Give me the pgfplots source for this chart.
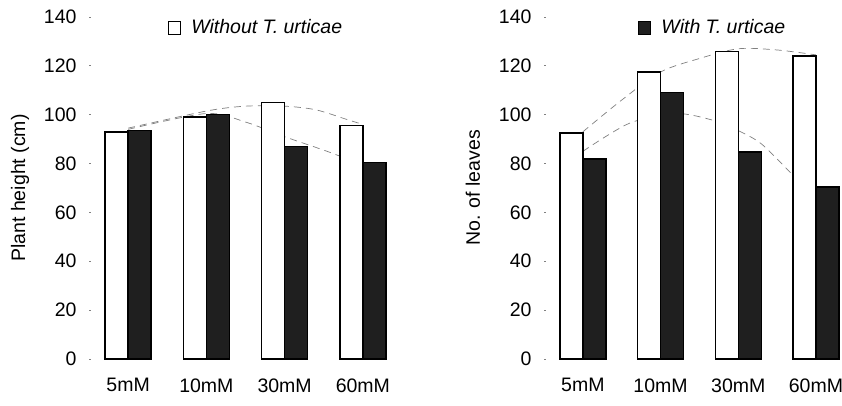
\documentclass[border=0pt]{standalone}
\usepackage{fontspec}
\setmainfont{Liberation Sans}
\usepackage{pgfplots}
\pgfplotsset{compat=1.18}

\pgfplotsset{
  panel/.style={
    scale only axis, anchor=south west,
    height=342pt, ymin=0, ymax=140, ytick={0,20,...,140},
    xmin=-0.5, xtick={0,1,2,3}, xticklabels={5mM,10mM,30mM,60mM},
    extra x ticks={0.5,1.5,2.5}, extra x tick labels={},
    extra x tick style={tick style={draw=gray, line width=0.8pt}},
    axis line style={draw=none},
    ytick pos=left, xtick pos=bottom,
    major tick length=2pt,
    y tick style={draw=gray, line width=0.8pt},
    x tick style={draw=none},
    tick label style={font=\fontsize{19.5}{21}\selectfont},
    /pgf/number format/assume math mode=true,
    yticklabel style={xshift=-9pt},
    xticklabel style={yshift=-16pt},
    every axis y label/.style={at={(axis description cs:0,0.5)}, rotate=90,
      anchor=center, font=\fontsize{19.5}{21}\selectfont},
    legend image code/.code={\draw[##1, line width=1.1pt] (0pt,-6.5pt) rectangle (12pt,6.5pt); \path (22pt,0pt);},
    clip=false,
  },
  wbar/.style={ybar, bar width=23pt, bar shift=-11.5pt, fill=white, draw=black, line width=1.4pt},
  dbar/.style={ybar, bar width=23pt, bar shift=11.5pt, fill=black!88, draw=black, line width=1.4pt},
  trend/.style={smooth, gray, line width=0.7pt, dash pattern=on 7pt off 5pt, mark=none, forget plot},
}

\begin{document}
\begin{tikzpicture}
\path[use as bounding box] (0,0) rectangle (842pt,406pt);

% left panel: plant height
\begin{axis}[panel, at={(89pt,47pt)}, width=313pt, xmax=3.5,
  ylabel={Plant height (cm)}, ylabel style={yshift=69pt},
  legend style={draw=none, fill=none, at={(0.252,0.969)}, anchor=west,
    inner sep=0pt, nodes={inner sep=0pt}, font=\fontsize{19.5}{21}\selectfont},
]
\addplot[trend] coordinates {(0,94.5) (1,101.5) (1.5,103.5) (2,103.5) (2.4,102) (2.8,98) (3,96)};
\addplot[trend] coordinates {(0,94) (1,100.5) (1.5,97) (2,91) (2.5,85.5) (2.75,82.5)};
\addplot[wbar] coordinates {(0,93) (1,99) (2,105) (3,95.5)};
\addlegendentry{\textit{Without T. urticae}}
\addplot[dbar, forget plot] coordinates {(0,93.5) (1,100) (2,87) (3,80.5)};
\end{axis}

% right panel: number of leaves
\begin{axis}[panel, at={(544pt,47pt)}, width=297.6pt, xmax=3.33,
  ylabel={No. of leaves}, ylabel style={yshift=71pt},
  legend style={draw=none, fill=none, at={(0.316,0.969)}, anchor=west,
    inner sep=0pt, nodes={inner sep=0pt}, font=\fontsize{19.5}{21}\selectfont},
]
\addplot[trend] coordinates {(0,93) (0.5,106) (1,117.5) (1.5,123) (2,127) (2.5,126.5) (3,124.5)};
\addplot[trend] coordinates {(0,85) (0.6,96.5) (1.2,100.5) (1.7,97.5) (2,93.5) (2.3,88) (2.68,76)};
\addplot[wbar, forget plot] coordinates {(0,92.5) (1,117.5) (2,125.8) (3,124)};
\addplot[dbar] coordinates {(0,81.8) (1,109) (2,84.7) (3,70.4)};
\addlegendentry{\textit{With T. urticae}}
\end{axis}
\end{tikzpicture}
\end{document}
